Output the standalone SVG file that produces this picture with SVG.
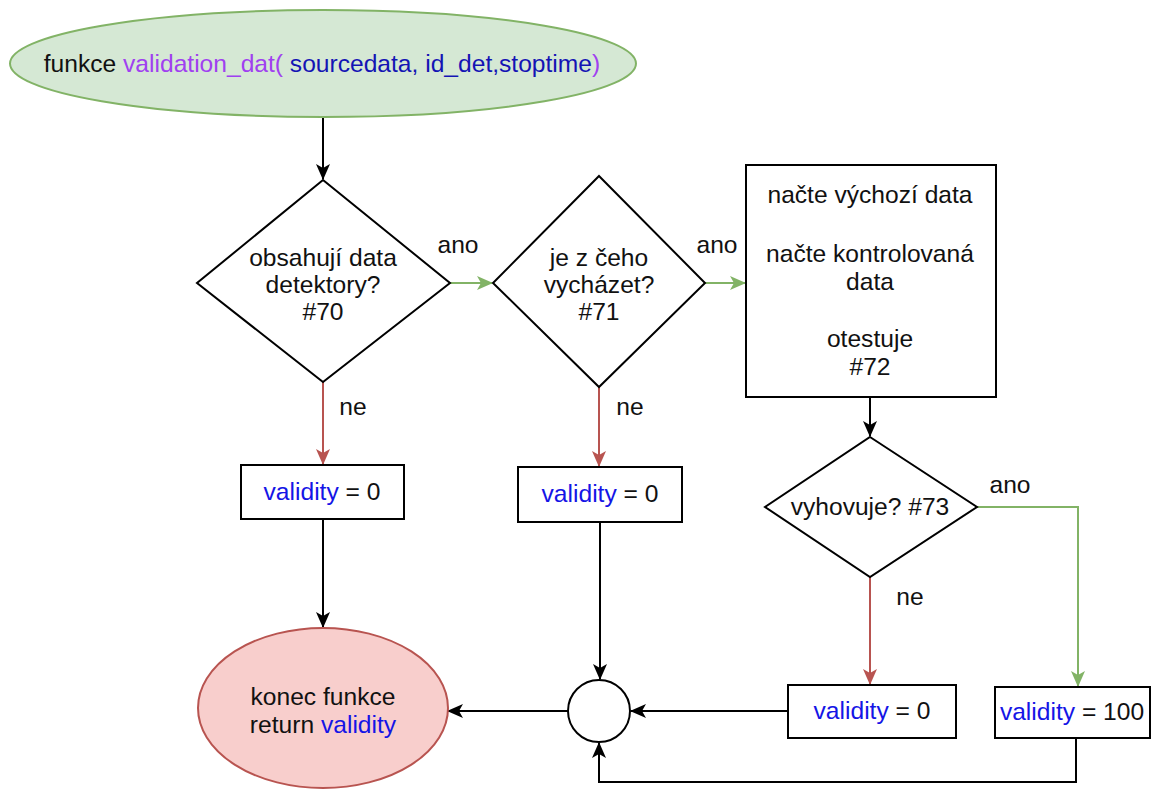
<svg xmlns="http://www.w3.org/2000/svg" width="1160" height="789" viewBox="0 0 1160 789">
<style>
text{font-family:"Liberation Sans",Arial,sans-serif;font-size:24.6px;fill:#111;text-anchor:middle}
.b{fill:#1515e6}
.p{fill:#a040f0}
.n{fill:#1414b4}
.shape{fill:#fff;stroke:#000;stroke-width:2}
.k{stroke:#000;stroke-width:2;fill:none}
.g{stroke:#82b366;stroke-width:2;fill:none}
.r{stroke:#b85450;stroke-width:2;fill:none}
</style>
<defs>
<marker id="ak" viewBox="0 0 16 14" markerWidth="16" markerHeight="14" refX="15" refY="7" orient="auto" markerUnits="userSpaceOnUse"><path d="M0,0 L16,7 L0,14 L4,7 Z" fill="#000"/></marker>
<marker id="ag" viewBox="0 0 16 14" markerWidth="16" markerHeight="14" refX="15" refY="7" orient="auto" markerUnits="userSpaceOnUse"><path d="M0,0 L16,7 L0,14 L4,7 Z" fill="#82b366"/></marker>
<marker id="ar" viewBox="0 0 16 14" markerWidth="16" markerHeight="14" refX="15" refY="7" orient="auto" markerUnits="userSpaceOnUse"><path d="M0,0 L16,7 L0,14 L4,7 Z" fill="#b85450"/></marker>
</defs>
<rect width="1160" height="789" fill="#fff"/>
<g id="connectors">
<path class="k" d="M323,117 V179" marker-end="url(#ak)"/>
<path class="g" d="M450,283 H492" marker-end="url(#ag)"/>
<path class="g" d="M705,283 H745" marker-end="url(#ag)"/>
<path class="k" d="M870,397 V436" marker-end="url(#ak)"/>
<path class="r" d="M323,382 V464" marker-end="url(#ar)"/>
<path class="r" d="M599,387 V466" marker-end="url(#ar)"/>
<path class="k" d="M323,519 V627" marker-end="url(#ak)"/>
<path class="k" d="M600,522 V679" marker-end="url(#ak)"/>
<path class="r" d="M870,577 V684" marker-end="url(#ar)"/>
<path class="g" d="M977,507 H1078 V686" marker-end="url(#ag)"/>
<path class="k" d="M788,711 H631" marker-end="url(#ak)"/>
<path class="k" d="M568,711 H448" marker-end="url(#ak)"/>
<path class="k" d="M1076,738 V782 H599 V743" marker-end="url(#ak)"/>
<text x="458" y="253">ano</text>
<text x="717" y="253">ano</text>
<text x="1010" y="493">ano</text>
<text x="353" y="415">ne</text>
<text x="630" y="415">ne</text>
<text x="910" y="605">ne</text>
</g>
<g id="start">
<ellipse cx="323" cy="63.5" rx="313" ry="53.5" fill="#d5e8d4" stroke="#82b366" stroke-width="2"/>
<text x="322" y="72">funkce <tspan class="p">validation_dat(</tspan><tspan class="n"> sourcedata, id_det,stoptime</tspan><tspan class="p">)</tspan></text>
</g>
<g id="d70">
<polygon class="shape" points="323,180 450,283 323,382 197,283"/>
<text x="323" y="266">obsahují data</text>
<text x="323" y="293">detektory?</text>
<text x="323" y="320">#70</text>
</g>
<g id="d71">
<polygon class="shape" points="599,176 705,283 599,387 493,283"/>
<text x="599" y="266">je z čeho</text>
<text x="599" y="293">vycházet?</text>
<text x="599" y="320">#71</text>
</g>
<g id="p72">
<rect class="shape" x="746" y="165" width="250" height="232"/>
<text x="870" y="203">načte výchozí data</text>
<text x="870" y="262">načte kontrolovaná</text>
<text x="870" y="290">data</text>
<text x="870" y="347">otestuje</text>
<text x="870" y="375">#72</text>
</g>
<g id="d73">
<polygon class="shape" points="870,437 977,507 870,577 765,507"/>
<text x="870" y="515">vyhovuje? #73</text>
</g>
<g id="v1">
<rect class="shape" x="241" y="465" width="163" height="54"/>
<text x="322" y="500"><tspan class="b">validity</tspan> = 0</text>
</g>
<g id="v2">
<rect class="shape" x="518" y="467" width="164" height="55"/>
<text x="600" y="502"><tspan class="b">validity</tspan> = 0</text>
</g>
<g id="v3">
<rect class="shape" x="788" y="685" width="168" height="53"/>
<text x="872" y="719"><tspan class="b">validity</tspan> = 0</text>
</g>
<g id="v4">
<rect class="shape" x="995" y="687" width="155" height="51"/>
<text x="1072" y="720"><tspan class="b">validity</tspan> = 100</text>
</g>
<g id="merge">
<circle class="shape" cx="599" cy="711" r="31"/>
</g>
<g id="end">
<ellipse cx="323" cy="708" rx="125" ry="80" fill="#f8cecc" stroke="#b85450" stroke-width="2"/>
<text x="323" y="705">konec funkce</text>
<text x="323" y="733">return <tspan class="b">validity</tspan></text>
</g>
</svg>
